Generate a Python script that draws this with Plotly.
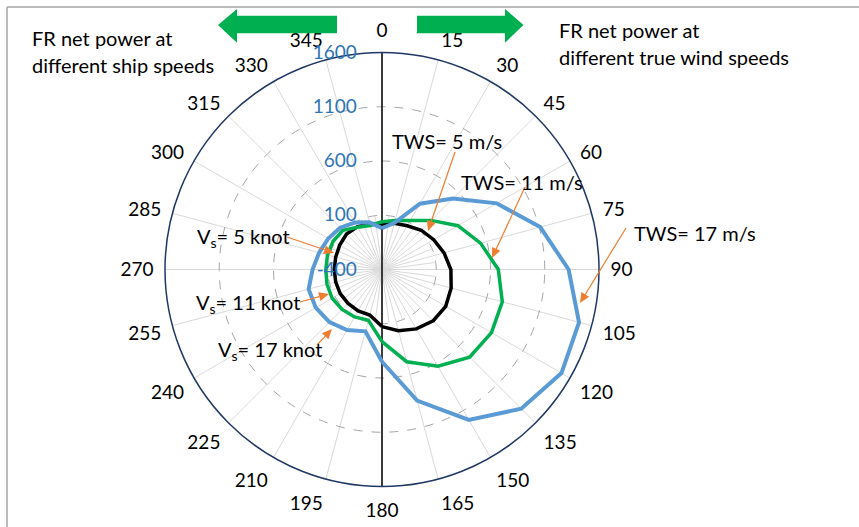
import math
import plotly.graph_objects as go

# ---- data (net power, angle in degrees) ----
theta_tws = [0, 15, 30, 45, 60, 75, 90, 105, 120, 135, 150, 165, 180]
theta_vs = [180, 195, 210, 225, 240, 255, 270, 285, 300, 315, 330, 345, 360]

# FR net power at different true wind speeds (right half)
tws_5 = [20, 41, 65, 112, 150, 192, 235, 260, 278, 268, 232, 185, 126]
tws_11 = [40, 67, 122, 240, 408, 540, 672, 748, 765, 742, 630, 480, 265]
tws_17 = [-20, 45, 300, 525, 820, 1110, 1320, 1480, 1510, 1415, 1200, 850, 450]

# FR net power at different ship speeds (left half)
vs_5 = [126, 35, 40, 42, 45, 42, 40, 42, 50, 62, 55, 40, 20]
vs_11 = [265, 85, 105, 120, 130, 125, 118, 120, 120, 110, 50, 20, 40]
vs_17 = [450, 190, 245, 285, 305, 300, 240, 200, 172, 145, 100, 50, -20]

angle_ticks = list(range(0, 360, 15))
radial_ticks = [-400, 100, 600, 1100, 1600]

W, H = 859, 527
FONT = "Lato"
C_BLACK, C_GREEN, C_BLUE = "#000000", "#00B050", "#5B9BD5"
C_ORANGE = "#ED7D31"


def px(x):
    return x / W


def py(y):
    return 1 - y / H


def poly_path(points):
    return "M " + " L ".join(f"{px(x):.5f},{py(y):.5f}" for x, y in points) + " Z"


fig = go.Figure()

# short inner spokes between the main 15-degree spokes
r_sp, t_sp = [], []
for a in range(0, 360, 15):
    r_sp += [radial_ticks[0], radial_ticks[1], None]
    t_sp += [a + 7.5, a + 7.5, None]
fig.add_trace(go.Scatterpolar(r=r_sp, theta=t_sp, mode="lines",
                              line=dict(color="#D9D9D9", width=1),
                              hoverinfo="skip", showlegend=False))

# vertical divider through the centre (0 / 180)
fig.add_trace(go.Scatterpolar(r=[radial_ticks[-1], radial_ticks[0], radial_ticks[-1]],
                              theta=[0, 0, 180], mode="lines",
                              line=dict(color="#000000", width=1.5),
                              hoverinfo="skip", showlegend=False))

series = [
    (theta_tws, tws_5, C_BLACK, 3.5, "TWS= 5 m/s"),
    (theta_tws, tws_11, C_GREEN, 3.5, "TWS= 11 m/s"),
    (theta_tws, tws_17, C_BLUE, 4, "TWS= 17 m/s"),
    (theta_vs, vs_5, C_BLACK, 3.5, "Vs= 5 knot"),
    (theta_vs, vs_11, C_GREEN, 3.5, "Vs= 11 knot"),
    (theta_vs, vs_17, C_BLUE, 4, "Vs= 17 knot"),
]
for th, r, col, w, name in series:
    fig.add_trace(go.Scatterpolar(r=r, theta=th, mode="lines", name=name,
                                  line=dict(color=col, width=w),
                                  showlegend=False))

cx, cy, rad = 382, 269.5, 217
fig.update_layout(
    width=W, height=H,
    margin=dict(l=0, r=0, t=0, b=0),
    paper_bgcolor="white",
    font=dict(family=FONT, size=19, color="#000000"),
    polar=dict(
        domain=dict(x=[px(cx - rad), px(cx + rad)], y=[py(cy + rad), py(cy - rad)]),
        bgcolor="white",
        angularaxis=dict(
            rotation=90, direction="clockwise",
            tickmode="array", tickvals=angle_ticks,
            ticktext=[str(a) for a in angle_ticks],
            ticks="outside", ticklen=7, tickcolor="rgba(0,0,0,0)",
            showline=True, linecolor="#203864", linewidth=1.5,
            showgrid=True, gridcolor="#D9D9D9", gridwidth=1,
            tickfont=dict(family=FONT, size=19, color="#000000"),
        ),
        radialaxis=dict(
            range=[radial_ticks[0], radial_ticks[-1]],
            tickmode="array", tickvals=radial_ticks,
            ticktext=[str(v) for v in radial_ticks],
            angle=90, side="counterclockwise", tickangle=90,
            ticks="outside", ticklen=18, tickcolor="rgba(0,0,0,0)",
            showline=False,
            showgrid=True, gridcolor="#A6A6A6", gridwidth=1.2, griddash="dash",
            tickfont=dict(family=FONT, size=19, color="#2E75B6"),
        ),
    ),
)

# direction arrows and frame
left_arrow = [(218, 25), (237, 9), (237, 15.7), (337, 15.7), (337, 33.3), (237, 33.3), (237, 42.7)]
right_arrow = [(417, 15.7), (505, 15.7), (505, 9), (523.5, 25), (505, 42.7), (505, 33.3), (417, 33.3)]
for poly in (left_arrow, right_arrow):
    fig.add_shape(type="path", path=poly_path(poly), xref="paper", yref="paper",
                  fillcolor=C_GREEN, line=dict(width=0))
fig.add_shape(type="line", xref="paper", yref="paper", x0=px(7), x1=1, y0=py(7), y1=py(7),
              line=dict(color="#A6A6A6", width=1.5))
fig.add_shape(type="line", xref="paper", yref="paper", x0=px(7), x1=px(7), y0=0, y1=py(7),
              line=dict(color="#A6A6A6", width=1.5))

# text labels
labels = [
    ("FR net power at", 30, 38),
    ("different ship speeds", 30, 65),
    ("FR net power at", 557, 30),
    ("different true wind speeds", 557, 57),
    ("TWS= 5 m/s", 390, 141),
    ("TWS= 11 m/s", 459, 182),
    ("TWS= 17 m/s", 632, 233),
    ("V<sub>s</sub>= 5 knot", 195, 237),
    ("V<sub>s</sub>= 11 knot", 194, 303),
    ("V<sub>s</sub>= 17 knot", 216, 350),
]
for txt, x, y in labels:
    fig.add_annotation(text=txt, x=px(x), y=py(y), xref="paper", yref="paper",
                       xanchor="left", yanchor="middle", showarrow=False,
                       font=dict(family=FONT, size=20, color="#000000"))

# orange pointers: (tail, tip) drawn as a thin line plus a filled head
pointers = [
    ((455, 152), (428, 231)),
    ((525, 187), (492, 258)),
    ((626, 228), (580, 303)),
    ((287, 237), (334, 253)),
    ((300, 302), (329, 294)),
    ((317, 345), (332, 329)),
]
HEAD_L, HEAD_W = 10, 4.5
for (tx, ty), (hx, hy) in pointers:
    dx, dy = hx - tx, hy - ty
    n = math.hypot(dx, dy)
    ux, uy = dx / n, dy / n
    bx, by = hx - ux * HEAD_L, hy - uy * HEAD_L
    fig.add_shape(type="line", xref="paper", yref="paper",
                  x0=px(tx), y0=py(ty), x1=px(bx), y1=py(by),
                  line=dict(color=C_ORANGE, width=1.2))
    head = [(hx, hy), (bx - uy * HEAD_W, by + ux * HEAD_W), (bx + uy * HEAD_W, by - ux * HEAD_W)]
    fig.add_shape(type="path", path=poly_path(head), xref="paper", yref="paper",
                  fillcolor=C_ORANGE, line=dict(width=0))

fig.write_html("out.html")
